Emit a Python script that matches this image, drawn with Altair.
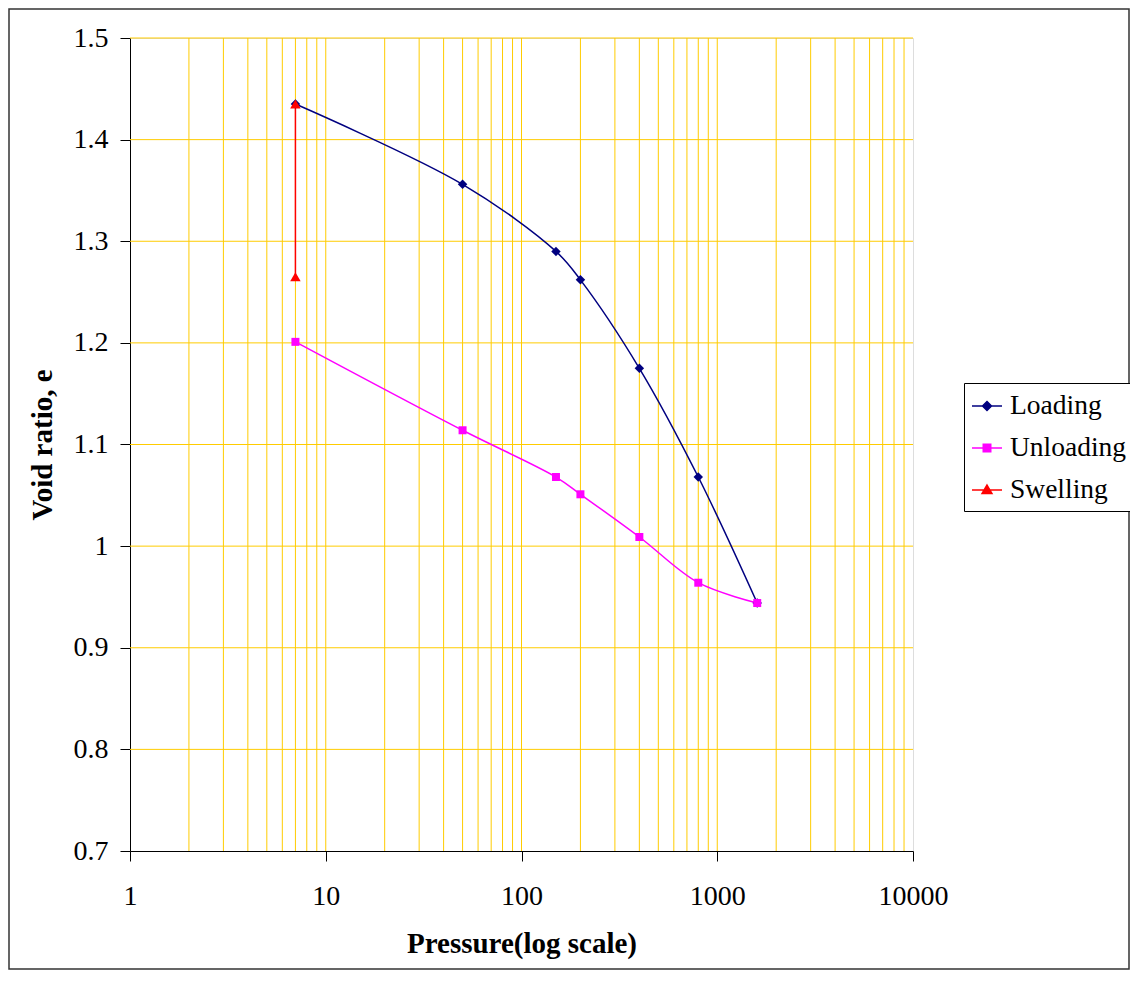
import altair as alt
import pandas as pd

# ---- data ----
pressure = [7, 50, 150, 200, 400, 800, 1600]
loading_e = [1.435, 1.356, 1.290, 1.262, 1.175, 1.068, 0.944]
unloading_e = [1.201, 1.114, 1.068, 1.051, 1.009, 0.964, 0.944]
swelling_p = [7, 7]
swelling_e = [1.265, 1.435]

series_names = ["Loading", "Unloading", "Swelling"]
series_colors = ["#000080", "#FF00FF", "#FF0000"]
series_shapes = ["diamond", "square", "triangle-up"]
series_sizes = [90, 64, 110]

x_ticks = [1, 10, 100, 1000, 10000]
y_ticks = [0.7, 0.8, 0.9, 1.0, 1.1, 1.2, 1.3, 1.4, 1.5]
x_grid = [2, 3, 4, 5, 6, 7, 8, 9, 10,
          20, 30, 40, 50, 60, 70, 80, 90, 100,
          200, 300, 400, 500, 600, 700, 800, 900, 1000,
          2000, 3000, 4000, 5000, 6000, 7000, 8000, 9000]
y_grid = [0.8, 0.9, 1.0, 1.1, 1.2, 1.3, 1.4, 1.5]

rows = []
for i, (p, e) in enumerate(zip(pressure, loading_e)):
    rows.append({"series": "Loading", "p": p, "e": e, "order": i})
for i, (p, e) in enumerate(zip(pressure, unloading_e)):
    rows.append({"series": "Unloading", "p": p, "e": e, "order": i})
for i, (p, e) in enumerate(zip(swelling_p, swelling_e)):
    rows.append({"series": "Swelling", "p": p, "e": e, "order": i})
df = pd.DataFrame(rows)

FONT = "Liberation Serif"
W, H = 783, 813
GOLD = "#FFCC00"

xscale = alt.Scale(type="log", domain=[1, 10000], nice=False)
yscale = alt.Scale(domain=[0.7, 1.5], nice=False, zero=False)

x_enc = alt.X("p:Q", scale=xscale,
              axis=alt.Axis(values=x_ticks, format="d", grid=False, tickSize=10,
                            labelFontSize=28, labelPadding=21, labelFont=FONT,
                            title="Pressure(log scale)", titleFontSize=29,
                            titleFontWeight="bold", titleFont=FONT, titlePadding=19,
                            domainColor="#000", tickColor="#000", labelColor="#000",
                            titleColor="#000", labelFlush=False))
y_enc = alt.Y("e:Q", scale=yscale,
              axis=alt.Axis(values=y_ticks, format="~g", grid=False, tickSize=10,
                            labelFontSize=28, labelPadding=12, labelFont=FONT,
                            title="Void ratio, e", titleFontSize=29,
                            titleFontWeight="bold", titleFont=FONT, titlePadding=16,
                            domainColor="#000", tickColor="#000", labelColor="#000",
                            titleColor="#000", labelFlush=False))

legend_paths = [
    "M-1,0H1M0,-0.3L0.3,0L0,0.3L-0.3,0Z",
    "M-1,0H1M-0.25,-0.25H0.25V0.25H-0.25Z",
    "M-1,0H1M0,-0.33L0.33,0.24H-0.33Z",
]

legend_def = alt.Legend(
    title=None, orient="none", legendX=834, legendY=345,
    labelFont=FONT, labelFontSize=27.5, labelColor="#000",
    symbolSize=900, symbolStrokeWidth=1.5, labelOffset=7,
    padding=7, rowPadding=12, strokeColor="#000", fillColor="#fff",
    symbolOpacity=1,
)
fill_enc = alt.Fill("series:N", scale=alt.Scale(domain=series_names, range=series_colors),
                    legend=legend_def)
stroke_enc = alt.Stroke("series:N", scale=alt.Scale(domain=series_names, range=series_colors),
                        legend=legend_def)
shape_enc = alt.Shape("series:N", scale=alt.Scale(domain=series_names, range=legend_paths),
                      legend=legend_def)

vgrid = alt.Chart(pd.DataFrame({"g": x_grid})).mark_rule(
    color=GOLD, strokeWidth=1).encode(x=alt.X("g:Q", scale=xscale))
hgrid = alt.Chart(pd.DataFrame({"g": y_grid})).mark_rule(
    color=GOLD, strokeWidth=1).encode(y=alt.Y("g:Q", scale=yscale))

base = alt.Chart(df)
lines = base.mark_line(interpolate="catmull-rom", strokeWidth=1.5).encode(
    x=x_enc, y=y_enc, stroke=stroke_enc, order="order:Q", detail="series:N")

point_layers = []
for name, shp, sz in zip(series_names, series_shapes, series_sizes):
    point_layers.append(
        base.transform_filter(alt.datum.series == name).mark_point(
            filled=True, opacity=1, shape=shp, size=sz, strokeWidth=0).encode(
            x=alt.X("p:Q", scale=xscale), y=alt.Y("e:Q", scale=yscale), fill=fill_enc)
    )

legend_layer = alt.Chart(pd.DataFrame({"series": series_names})).mark_point(
    filled=True, opacity=1, strokeWidth=1.5).encode(
    x=alt.value(-3000), y=alt.value(-3000),
    fill=fill_enc, stroke=stroke_enc, shape=shape_enc)

border = alt.Chart(pd.DataFrame({"a": [0]})).mark_rect(
    fill=None, stroke="#333", strokeWidth=1.5).encode(
    x=alt.value(-121), x2=alt.value(999), y=alt.value(-29), y2=alt.value(931))

chart = alt.layer(vgrid, hgrid, lines, *point_layers, legend_layer, border).properties(
    width=W, height=H,
    autosize=alt.AutoSizeParams(type="none"),
    padding={"left": 122, "top": 30, "right": 217, "bottom": 119},
).configure_view(stroke="#808080", strokeWidth=1).configure(background="#ffffff")

chart.save("out.html", embed_options={"renderer": "svg", "actions": False})
